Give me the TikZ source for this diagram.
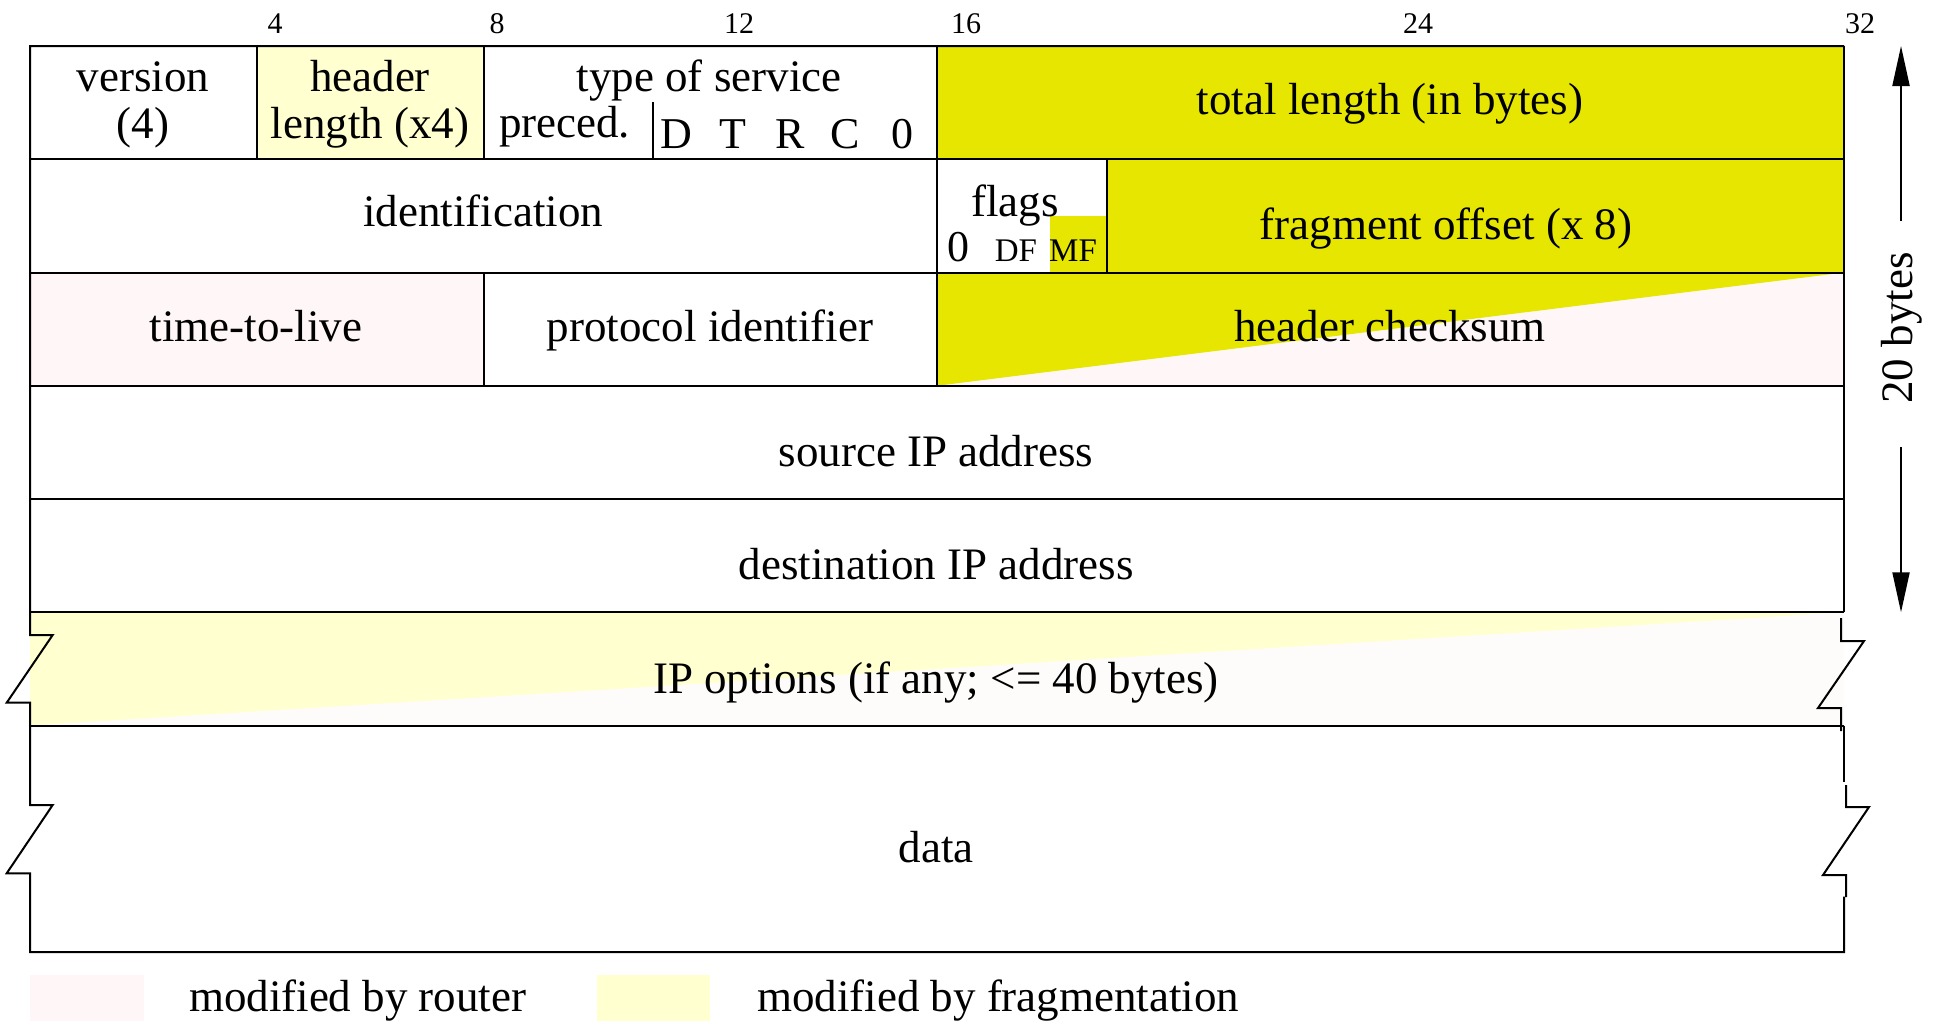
\documentclass[tikz,border=0pt]{standalone}
\usepackage{fontspec}
\setmainfont{Liberation Serif}
\usetikzlibrary{arrows.meta}
\definecolor{routerpink}{RGB}{255,247,247}
\definecolor{optpale}{RGB}{254,252,250}
\definecolor{fragpale}{RGB}{255,255,208}
\definecolor{fragstrong}{RGB}{230,230,0}
\begin{document}
\begin{tikzpicture}[x=1pt,y=-1pt,line width=2pt,line join=miter,
  lbl/.style={inner sep=0pt,anchor=base,font=\fontsize{45}{54}\selectfont},
  lblw/.style={lbl,anchor=base west},
  bitno/.style={inner sep=0pt,anchor=base,font=\fontsize{30}{36}\selectfont},
  flagbit/.style={inner sep=0pt,anchor=base,font=\fontsize{33}{40}\selectfont},
  tosbit/.style={inner sep=0pt,anchor=base,font=\fontsize{44}{52}\selectfont},
  spanarrow/.style={-{Triangle[length=40pt,width=17pt]},line width=2pt}]
\useasboundingbox (0,0) rectangle (1937,1021);

% field shading
\fill[fragpale]   (256.75,46) rectangle (483.5,159.25);
\fill[fragstrong] (937,46) rectangle (1844,159.25);
\fill[fragstrong] (1107,159.25) rectangle (1844,272.5);
\fill[fragstrong] (1050,216) rectangle (1107,272.5);
\fill[routerpink] (30,272.5) rectangle (483.5,385.75);
\fill[routerpink] (937,272.5) rectangle (1844,385.75);
\fill[fragstrong] (937,272.5) -- (1844,272.5) -- (937,385.75) -- cycle;
\fill[optpale]    (30,612.25) rectangle (1844,725.5);
\fill[fragpale]   (30,612.25) -- (1844,612.25) -- (30,725.5) -- cycle;

% legend swatches
\fill[routerpink] (30,975) rectangle (144,1021);
\fill[fragpale]   (597,975) rectangle (710,1021);

% outline with broken edges for the variable-length parts
\draw (1844,46) -- (30,46) -- (30,635) -- (52.7,635) -- (6.7,702.7) -- (30,702.7)
      -- (30,805) -- (52.7,805) -- (6.7,873.3) -- (30,873.3)
      -- (30,952) -- (1844,952) -- (1844,896.7);
\draw (1844,46) -- (1844,612.25);
\draw (1841,618) -- (1841,641) -- (1864,641) -- (1818,708) -- (1841,708) -- (1841,731);
\draw (1844,725.5) -- (1844,782);
\draw (1846,785) -- (1846,807) -- (1869,807) -- (1823,875) -- (1846,875) -- (1846,897);

% row separators
\foreach \yy in {159.25,272.5,385.75,499,612.25,725.5}
  \draw (30,\yy) -- (1844,\yy);

% field separators
\draw (256.75,46) -- (256.75,159.25);
\draw (483.5,46) -- (483.5,159.25);
\draw (937,46) -- (937,159.25);
\draw (653,101.7) -- (653,159.25);
\draw (937,159.25) -- (937,272.5);
\draw (1107,159.25) -- (1107,272.5);
\draw (483.5,272.5) -- (483.5,385.75);
\draw (937,272.5) -- (937,385.75);

% bit positions
\node[bitno] (b4)  at (275,33)  {4};
\node[bitno] (b8)  at (497,33)  {8};
\node[bitno] (b12) at (739,33)  {12};
\node[bitno] (b16) at (966,33)  {16};
\node[bitno] (b24) at (1418,33) {24};
\node[bitno] (b32) at (1860,33) {32};

% first word
\node[lbl] (ver1) at (143,91)  {version};
\node[lbl] (ver2) at (143,138) {(4)};
\node[lbl] (hl1)  at (370,91)  {header};
\node[lbl] (hl2)  at (370,138) {length (x4)};
\node[lbl] (tos)  at (709,91)  {type of service};
\node[lblw] (prec) at (498,137) {preced.};
\node[tosbit] (tD) at (676,148) {D};
\node[tosbit] (tT) at (733,148) {T};
\node[tosbit] (tR) at (790,148) {R};
\node[tosbit] (tC) at (845,148) {C};
\node[tosbit] (t0) at (902,148) {0};
\node[lbl] (tlen) at (1390,114) {total length (in bytes)};

% second word
\node[lbl] (ident) at (483,226.5) {identification};
\node[lbl] (flags) at (1015,216.5) {flags};
\node[inner sep=0pt,anchor=base,font=\fontsize{44}{50}\selectfont] (f0) at (958,261.5) {0};
\node[flagbit] (fdf) at (1016,261.5) {DF};
\node[flagbit] (fmf) at (1073,261.5) {MF};
\node[lbl] (foff) at (1446,239) {fragment offset (x 8)};

% third word
\node[lbl] (ttl)   at (256,341) {time-to-live};
\node[lbl] (proto) at (710,341) {protocol identifier};
\node[lbl] (csum)  at (1390,341) {header checksum};

% addresses, options, data
\node[lbl] (src)  at (936,466)   {source IP address};
\node[lbl] (dst)  at (936,579.5) {destination IP address};
\node[lbl] (opts) at (936,693)   {IP options (if any; <= 40 bytes)};
\node[lbl] (data) at (936,862.7) {data};

% fixed header size
\node[lbl,rotate=90] (span) at (1912,328) {20 bytes};
\coordinate (uptip)   at (1901,46);
\coordinate (upfoot)  at (1901,221);
\coordinate (dntip)   at (1901,612.25);
\coordinate (dnfoot)  at (1901,447);
\draw[spanarrow] (upfoot) -- (uptip);
\draw[spanarrow] (dnfoot) -- (dntip);

% legend
\node[lblw] (legr) at (188,1011) {modified by router};
\node[lblw] (legf) at (756,1011) {modified by fragmentation};
\end{tikzpicture}
\end{document}
